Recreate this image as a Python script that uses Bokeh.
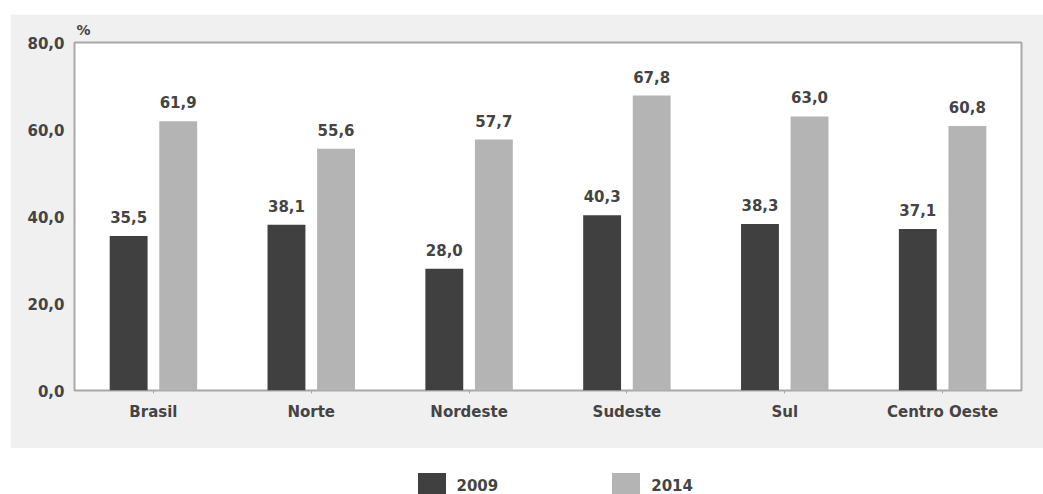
from bokeh.plotting import figure
from bokeh.layouts import column
from bokeh.models import (ColumnDataSource, FactorRange, Range1d, FixedTicker, LabelSet,
                          Legend, LegendItem)
from bokeh.core.properties import value
from bokeh.transform import dodge
from bokeh.embed import file_html
from bokeh.resources import INLINE

# Regional shares (%) for 2009 and 2014
regions = ["Brasil", "Norte", "Nordeste", "Sudeste", "Sul", "Centro Oeste"]
values_2009 = [35.5, 38.1, 28.0, 40.3, 38.3, 37.1]
values_2014 = [61.9, 55.6, 57.7, 67.8, 63.0, 60.8]
series_names = ["2009", "2014"]
y_ticks = [0, 20, 40, 60, 80]
y_tick_labels = ["0,0", "20,0", "40,0", "60,0", "80,0"]


def fmt(v):
    return f"{v:.1f}".replace(".", ",")


source = ColumnDataSource(data=dict(
    region=regions,
    v2009=values_2009,
    v2014=values_2014,
    t2009=[fmt(v) for v in values_2009],
    t2014=[fmt(v) for v in values_2014],
))

FONT = "DejaVu Sans"
TEXT_COLOR = "#444444"
DARK = "#404040"
LIGHT = "#b4b4b4"
PANEL = "#f0f0f0"

# main chart on a light grey panel
p = figure(
    width=1033, height=434, margin=(14, 0, 0, 10),
    x_range=FactorRange(*regions, range_padding=0),
    y_range=Range1d(0, 80),
    output_backend="svg", toolbar_location=None,
    min_border_left=64, min_border_right=22, min_border_top=28, min_border_bottom=58,
)
p.border_fill_color = PANEL
p.background_fill_color = "white"
p.outline_line_color = "#a8a8a8"
p.outline_line_width = 2
p.xgrid.grid_line_color = None
p.ygrid.grid_line_color = None

# unit marker above the value axis
p.title.text = "%"
p.title.align = "left"
p.title.offset = 2
p.title.standoff = 10
p.title.text_font = FONT
p.title.text_font_style = "bold"
p.title.text_font_size = "14px"
p.title.text_color = TEXT_COLOR

offset = 0.157
bar_w = 0.24
bar_specs = [("v2009", "t2009", -offset, DARK), ("v2014", "t2014", offset, LIGHT)]

for top_col, text_col, off, color in bar_specs:
    p.vbar(x=dodge("region", off, range=p.x_range), top=top_col, width=bar_w,
           source=source, fill_color=color, line_color=None)
    p.add_layout(LabelSet(
        x=dodge("region", off, range=p.x_range), y=top_col, text=text_col,
        source=source, y_offset=13, text_align="center", text_baseline="bottom",
        text_font=value(FONT), text_font_style="bold", text_font_size="15px",
        text_color=TEXT_COLOR))

# axes
p.yaxis.ticker = FixedTicker(ticks=y_ticks)
p.yaxis.major_label_overrides = {t: s for t, s in zip(y_ticks, y_tick_labels)}
p.yaxis.axis_line_color = None
p.yaxis.major_tick_line_color = None
p.yaxis.minor_tick_line_color = None
p.yaxis.major_tick_out = 0
p.yaxis.major_label_standoff = 10

p.xaxis.axis_line_color = None
p.xaxis.major_tick_line_color = "#a8a8a8"
p.xaxis.major_tick_in = 0
p.xaxis.major_tick_out = 3
p.xaxis.major_label_standoff = 9

for ax in (p.xaxis, p.yaxis):
    ax.major_label_text_font = FONT
    ax.major_label_text_font_style = "bold"
    ax.major_label_text_font_size = "15px"
    ax.major_label_text_color = TEXT_COLOR

# legend strip on white below the panel
lg = figure(
    width=1043, height=46,
    x_range=p.x_range, y_range=p.y_range,
    output_backend="svg", toolbar_location=None,
    x_axis_location=None, y_axis_location=None,
    min_border=0,
)
lg.border_fill_color = "white"
lg.background_fill_color = "white"
lg.outline_line_color = None
lg.grid.grid_line_color = None

legend_renderers = []
for (top_col, _, off, color) in bar_specs:
    r = lg.vbar(x=dodge("region", off, range=lg.x_range), top=top_col, width=bar_w,
                source=source, fill_color=color, line_color=None, visible=False)
    legend_renderers.append(r)

legend = Legend(
    items=[LegendItem(label=name, renderers=[r]) for name, r in zip(series_names, legend_renderers)],
    orientation="horizontal", location=(349.5, -9.5),
    glyph_width=35, glyph_height=35, label_standoff=8, spacing=110,
    padding=0, margin=0, border_line_color=None, background_fill_alpha=0,
    inactive_fill_alpha=0,
    label_text_font=FONT, label_text_font_style="bold", label_text_font_size="15px",
    label_text_color=TEXT_COLOR,
)
lg.add_layout(legend, "center")

layout = column(p, lg, spacing=0)
open("out.html", "w").write(file_html(layout, INLINE))
